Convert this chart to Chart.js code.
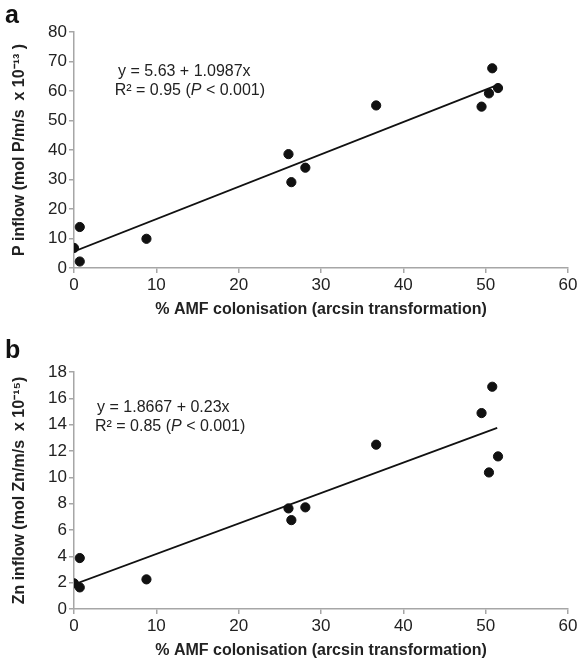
<!DOCTYPE html>
<html>
<head>
<meta charset="utf-8">
<script src="https://cdn.jsdelivr.net/npm/chart.js@4"></script>
<style>
  html, body { margin: 0; padding: 0; background: #fff; }
  .panel { position: relative; width: 581px; }
</style>
</head>
<body>
<div class="panel" style="height:330px"><canvas id="chartA" width="581" height="330"></canvas></div>
<div class="panel" style="height:331px"><canvas id="chartB" width="581" height="331"></canvas></div>
<script>
// colonisation (arcsin transformed), same plants in both panels
const colonisation = [0.0, 0.7, 0.7, 8.8, 26.05, 26.4, 28.1, 36.7, 49.5, 50.4, 50.8, 51.5]
const pInflow = [6.8, 13.9, 2.2, 9.9, 38.6, 29.1, 34.0, 55.1, 54.7, 59.2, 67.7, 61.0]
const znInflow = [1.95, 3.87, 1.64, 2.25, 7.64, 6.75, 7.72, 12.48, 14.88, 10.37, 16.88, 11.59]

// fitted line endpoints
const fitX = [0, 51.4]
const fitPY = [5.63, 62.0]
const fitZnY = [1.87, 13.75]

const xTicks = [0, 10, 20, 30, 40, 50, 60]
const pTicks = [0, 10, 20, 30, 40, 50, 60, 70, 80]
const znTicks = [0, 2, 4, 6, 8, 10, 12, 14, 16, 18]

const FONT = "'Liberation Sans', Arial, Helvetica, sans-serif"
const AXIS_GREY = '#a6a6a6'
const TEXT = '#222'

const toPoints = (xs, ys) => xs.map((x, i) => ({ x, y: ys[i] }))

// equation text drawn in data coordinates; each line is a list of [text, italic]
const equationPlugin = {
  id: 'equation',
  afterDatasetsDraw(chart, args, opts) {
    const { ctx, scales } = chart
    ctx.save()
    ctx.fillStyle = TEXT
    ctx.textBaseline = 'middle'
    opts.lines.forEach((line) => {
      let px = scales.x.getPixelForValue(line.x)
      const py = scales.y.getPixelForValue(line.y)
      line.parts.forEach(([text, italic]) => {
        ctx.font = `${italic ? 'italic ' : ''}16px ${FONT}`
        ctx.fillText(text, px, py)
        px += ctx.measureText(text).width
      })
    })
    ctx.restore()
  }
}

const panelLabelPlugin = {
  id: 'panelLabel',
  afterDraw(chart, args, opts) {
    const { ctx } = chart
    ctx.save()
    ctx.fillStyle = '#111'
    ctx.font = `bold 25px ${FONT}`
    ctx.textBaseline = 'alphabetic'
    ctx.fillText(opts.text, 5, opts.baseline)
    ctx.restore()
  }
}

function buildChart(canvas, cfg) {
  return new Chart(canvas, {
    type: 'scatter',
    data: {
      datasets: [
        {
          data: toPoints(colonisation, cfg.values),
          backgroundColor: '#111',
          borderColor: '#111',
          pointRadius: 4.6,
          pointHoverRadius: 4.6
        },
        {
          type: 'line',
          data: toPoints(fitX, cfg.fitY),
          borderColor: '#111',
          borderWidth: 1.8,
          pointRadius: 0,
          fill: false
        }
      ]
    },
    plugins: [equationPlugin, panelLabelPlugin],
    options: {
      responsive: false,
      animation: false,
      layout: { padding: { left: 0, top: cfg.top, right: 13, bottom: 0 } },
      plugins: {
        legend: { display: false },
        tooltip: { enabled: false },
        equation: { lines: cfg.equation },
        panelLabel: { text: cfg.label, baseline: cfg.labelBaseline }
      },
      scales: {
        x: {
          type: 'linear',
          min: 0,
          max: 60,
          afterBuildTicks: (scale) => { scale.ticks = xTicks.map((value) => ({ value })) },
          afterFit: (scale) => { scale.height = cfg.xHeight },
          border: { color: AXIS_GREY, width: 1.5 },
          grid: { drawOnChartArea: false, color: AXIS_GREY, tickLength: 5, lineWidth: 1.5 },
          ticks: { color: TEXT, font: { family: FONT, size: 17 }, padding: 2, maxRotation: 0 },
          title: {
            display: true,
            text: '% AMF colonisation (arcsin transformation)',
            color: TEXT,
            font: { family: FONT, size: 16, weight: 'bold' },
            padding: { top: 0, bottom: cfg.xTitlePad }
          }
        },
        y: {
          type: 'linear',
          min: 0,
          max: cfg.yMax,
          afterBuildTicks: (scale) => { scale.ticks = cfg.yTicks.map((value) => ({ value })) },
          afterFit: (scale) => { scale.width = 74 },
          border: { color: AXIS_GREY, width: 1.5 },
          grid: { drawOnChartArea: false, color: AXIS_GREY, tickLength: 5, lineWidth: 1.5 },
          ticks: { color: TEXT, font: { family: FONT, size: 17 }, padding: 2 },
          title: {
            display: true,
            text: cfg.yTitle,
            color: TEXT,
            font: { family: FONT, size: 16, weight: 'bold' },
            padding: { top: 10, bottom: 0 }
          }
        }
      }
    }
  })
}

buildChart(document.getElementById('chartA'), {
  values: pInflow,
  fitY: fitPY,
  yMax: 80,
  yTicks: pTicks,
  yTitle: 'P inflow (mol P/m/s  x 10\u207B\u00B9\u00B3 )',
  top: 32,
  xHeight: 62,
  xTitlePad: 11,
  label: 'a',
  labelBaseline: 23,
  equation: [
    { x: 5.35, y: 66.7, parts: [['y = 5.63 + 1.0987x', false]] },
    { x: 4.95, y: 60.3, parts: [['R\u00B2 = 0.95 (', false], ['P', true], [' < 0.001)', false]] }
  ]
})

buildChart(document.getElementById('chartB'), {
  values: znInflow,
  fitY: fitZnY,
  yMax: 18,
  yTicks: znTicks,
  yTitle: 'Zn inflow (mol Zn/m/s  x 10\u207B\u00B9\u2075)',
  top: 42,
  xHeight: 52,
  xTitlePad: 1,
  label: 'b',
  labelBaseline: 28,
  equation: [
    { x: 2.8, y: 15.3, parts: [['y = 1.8667 + 0.23x', false]] },
    { x: 2.55, y: 13.85, parts: [['R\u00B2 = 0.85 (', false], ['P', true], [' < 0.001)', false]] }
  ]
})
</script>
</body>
</html>
